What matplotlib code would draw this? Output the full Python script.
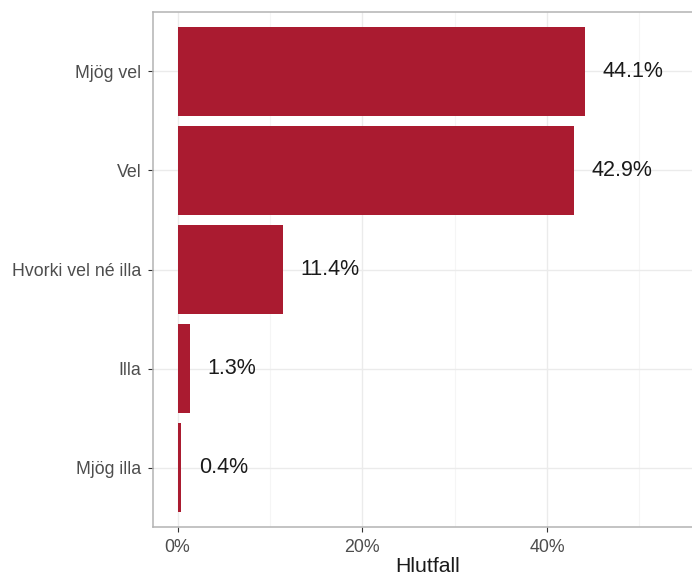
import matplotlib
matplotlib.use("Agg")
import matplotlib.pyplot as plt
import numpy as np

categories = ["Mjög vel", "Vel", "Hvorki vel né illa", "Illa", "Mjög illa"]
shares = [44.1, 42.9, 11.4, 1.3, 0.4]
value_labels = ["44.1%", "42.9%", "11.4%", "1.3%", "0.4%"]
x_ticks = [0, 20, 40]
x_ticklabels = ["0%", "20%", "40%"]

BAR = "#AA1B30"
GRID = "#EBEBEB"

plt.rcParams["font.family"] = ["Liberation Sans", "DejaVu Sans"]

fig = plt.figure(figsize=(6.92, 5.77), dpi=100)
ax = fig.add_axes([153 / 692, 50 / 577, 550 / 692, 515 / 577])

y = np.arange(len(categories))[::-1]
ax.barh(y, shares, height=0.9, color=BAR, zorder=3)

for yp, v, lab in zip(y, shares, value_labels):
    ax.text(v + 1.95, yp, lab, ha="left", va="center", fontsize=15.5, color="#1a1a1a", zorder=4)

ax.set_xlim(-2.66, 56.9)
ax.set_ylim(-0.6, len(categories) - 0.4)
ax.set_yticks(y)
ax.set_yticklabels(categories)
ax.set_xticks(x_ticks)
ax.set_xticklabels(x_ticklabels)
ax.set_xticks([10, 30, 50], minor=True)

ax.grid(True, which="major", color=GRID, linewidth=1.0, zorder=0)
ax.grid(True, which="minor", axis="x", color="#F5F5F5", linewidth=0.8, zorder=0)
ax.set_axisbelow(True)

ax.tick_params(axis="both", which="major", labelsize=12.8, labelcolor="#4d4d4d",
               color="#333333", length=3.5, width=0.8, pad=5)
ax.tick_params(axis="x", which="minor", length=0)

for s in ax.spines.values():
    s.set_color("#B3B3B3")
    s.set_linewidth(1.1)
ax.spines["right"].set_visible(False)

ax.set_xlabel("Hlutfall", fontsize=15.3, color="#1a1a1a", labelpad=1)

fig.savefig("out.png", dpi=100, facecolor="white")
